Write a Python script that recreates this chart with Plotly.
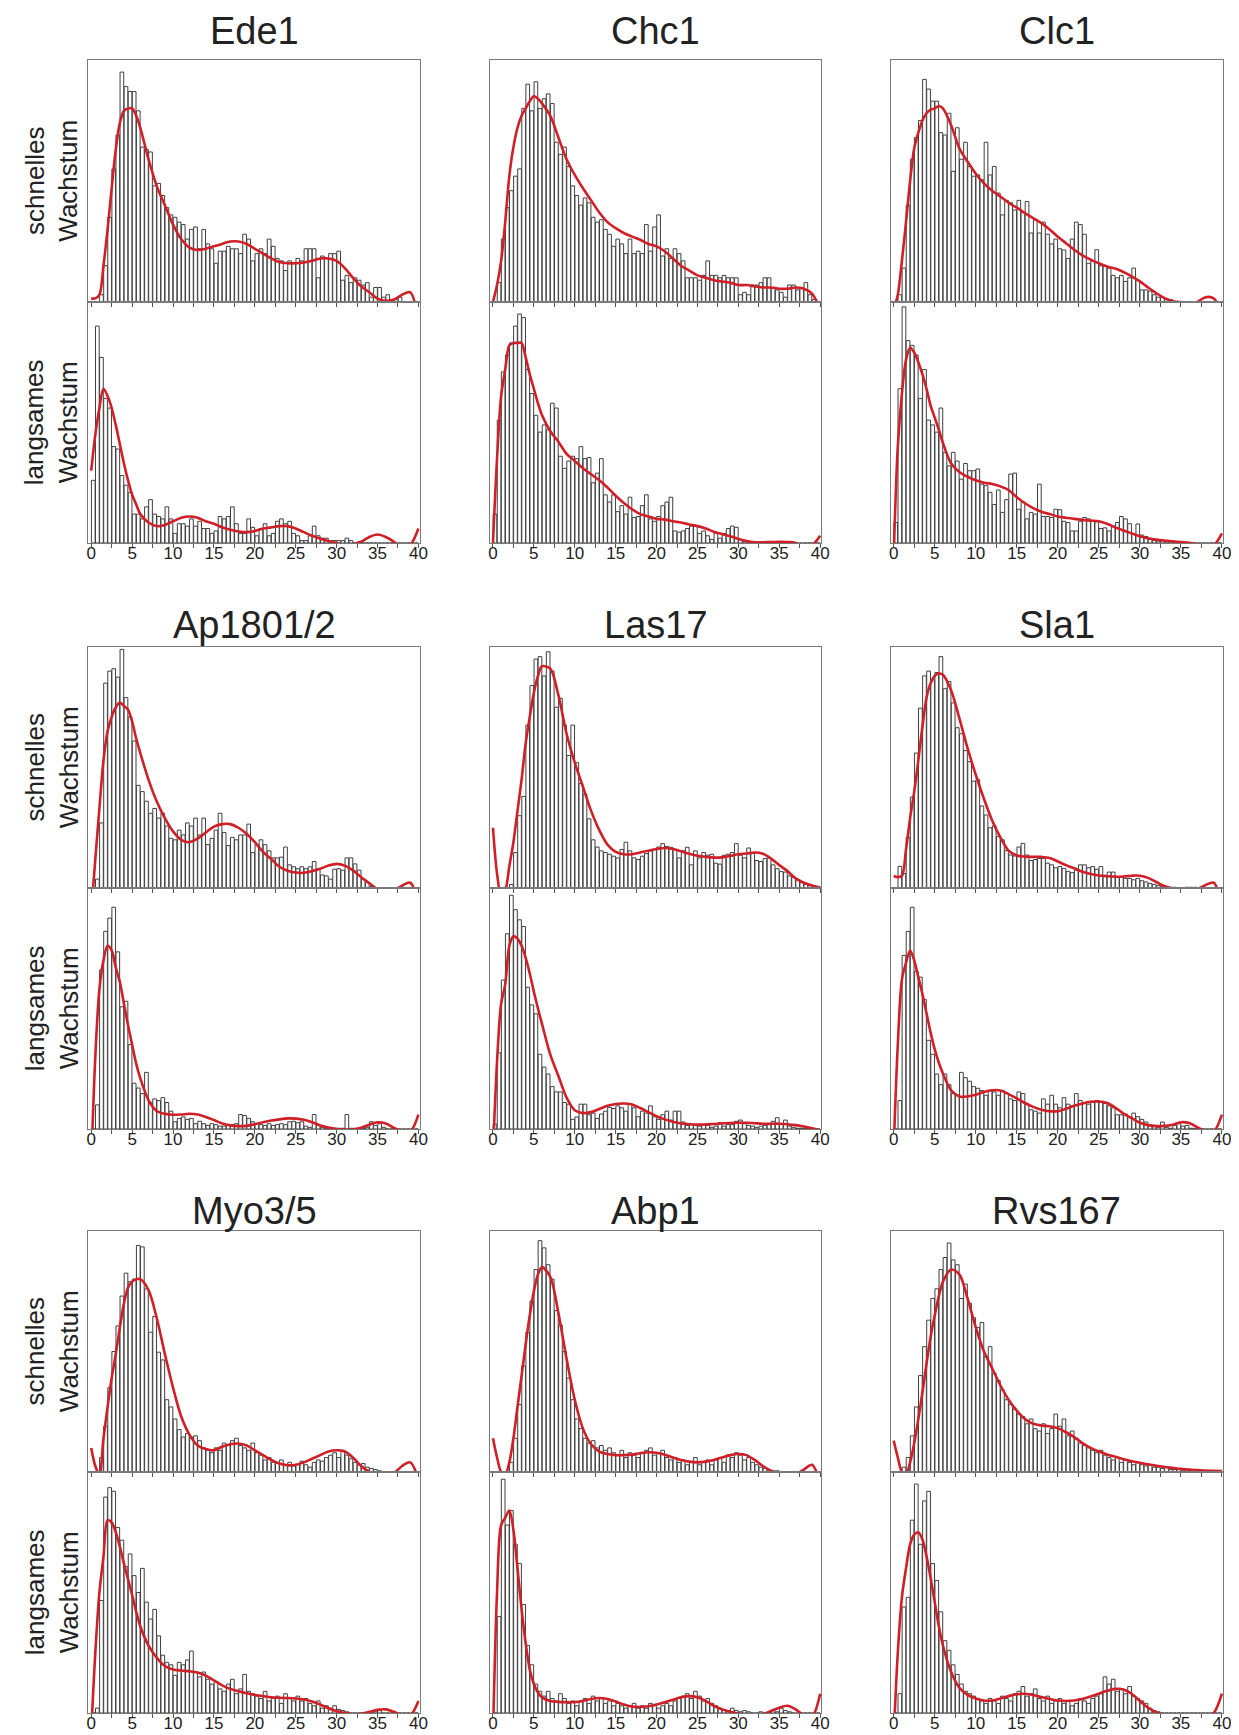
import plotly.graph_objects as go

W, H = 1239, 1735

# ---------------- categories / ticks ----------------
GENES = ["Ede1", "Chc1", "Clc1", "Ap1801/2", "Las17", "Sla1", "Myo3/5", "Abp1", "Rvs167"]
ROW_LABELS = ["schnelles<br>Wachstum", "langsames<br>Wachstum"]
BIN_WIDTH = 0.5
BIN_CENTERS = [BIN_WIDTH * (i + 0.5) for i in range(80)]
CURVE_X = [0, 0.5, 1, 1.5, 2, 2.5, 3, 3.5, 4, 4.5, 5, 5.5, 6] + list(range(7, 41))
TICK_VALUES = [0, 2.5, 5, 7.5, 10, 12.5, 15, 17.5, 20, 22.5, 25, 27.5, 30, 32.5, 35, 37.5, 40]
TICK_LABELS = ["0", "", "5", "", "10", "", "15", "", "20", "", "25", "", "30", "", "35", "", "40"]

# ---------------- data (relative heights, % of panel) ----------------
EDE1_FAST_HIST = [
    0, 0, 3, 15, 35, 55, 69, 95, 89, 87,
    87, 79, 64, 63, 62, 48, 49, 44, 39, 36,
    35, 33, 32, 26, 30, 31, 22, 30, 24, 22,
    16, 21, 21, 23, 22, 22, 20, 28, 26, 17,
    20, 22, 20, 26, 23, 18, 17, 13, 17, 16,
    18, 17, 22, 22, 22, 10, 19, 18, 20, 20,
    21, 9, 11, 8, 10, 9, 7, 8, 2, 6,
    6, 2, 3, 1, 1, 2, 0, 0, 0, 0]
EDE1_FAST_CURVE = [1.5, 1.5, 3, 15, 30, 47, 63, 74, 79, 80, 80, 77, 72,
    59, 48, 40, 32, 26, 22.5, 21.5, 22, 23, 24, 25, 25, 24, 22, 20, 18, 16.5, 16, 16, 16.3,
    17, 18, 18, 17, 14, 10, 6.5, 4, 1.4, 0.5, 1, 3, 4, -8]
EDE1_SLOW_HIST = [
    26, 90, 77, 60, 56, 40, 39, 28, 24, 21,
    12, 12, 10, 15, 18, 12, 11, 10, 15, 10,
    4, 8, 8, 7, 10, 7, 9, 6, 6, 4,
    5, 11, 10, 11, 15, 8, 4, 4, 10, 6.5,
    3, 6, 8, 3, 4, 9, 10, 8, 9, 4,
    3, 1, 1, 3, 7, 3, 2, 2, 1, 1,
    1, 1, 2, 1, 0, 0.5, 0, 0, 0, 0,
    0, 0, 0, 0, 0, 0, 0, 0, 0, 0]
EDE1_SLOW_CURVE = [30, 45, 56, 64, 61, 56, 49, 41, 33, 26, 20, 16, 12,
    8.5, 7, 7.5, 9, 10.5, 11, 10.5, 9, 8, 6.5, 5.5, 4.8, 4.5, 5, 6, 6.5, 7, 7, 6, 4.5,
    3, 1.8, 0.8, 0, -1, -0.5, 0.5, 2.5, 3.5, 2.5, 0.5, -3, -1, 6]

CHC1_FAST_HIST = [
    0, 8, 26, 39, 46, 52, 55, 80, 90, 79,
    91, 80, 84, 86, 82, 66, 61, 64, 56, 48,
    44, 40, 43, 41, 35, 33, 34, 30, 28, 23,
    26, 24, 20, 26, 20, 21, 20, 32, 21, 31,
    36, 19, 22, 18, 22, 20, 17, 10, 10, 10,
    9, 11, 17, 11, 11, 10, 11, 10, 10, 10,
    3, 4, 3, 7, 7, 8, 10, 10, 6, 5,
    4, 2, 7, 7, 5, 6, 8, 3, 1, 0]
CHC1_FAST_CURVE = [0, 7, 17, 33, 52, 64, 72, 77, 80, 83, 85, 84, 82,
    77, 68, 59, 52.5, 47, 42, 37, 33, 30.5, 28.5, 27, 25.7, 24, 23, 21, 18, 15, 13, 11, 10,
    9, 8.5, 8, 7, 7, 6.5, 6, 6, 5.5, 5.5, 6, 5.5, 3.5, -3]
CHC1_SLOW_HIST = [
    12, 51, 71, 78, 83, 90, 95, 93.5, 72, 62,
    53, 46, 49, 47, 58, 56, 36, 31, 34, 36,
    35, 40, 35, 35.5, 25, 29, 35, 20, 17, 20,
    13, 15.5, 12, 19, 10.6, 11, 15.5, 20, 10, 9,
    11, 15.5, 17, 19, 5, 4.5, 5, 6, 7, 7,
    4, 5, 3, 1.5, 4, 2, 4, 6, 7, 6.5,
    1.5, 0.5, 0, 0, 0, 0, 0, 0, 0, 0,
    0, 0, 0, 0, 0, 0, 0, 0, 0, 0]
CHC1_SLOW_CURVE = [0, 35, 61, 72, 82, 83, 83, 83, 77, 70, 64, 58, 53,
    46.5, 42, 37, 34, 31, 28.5, 26, 23, 19.6, 16.6, 14, 12, 11, 10, 9.7, 9, 8.5, 7.7, 7, 6,
    4.7, 3.7, 2.8, 1.7, 0.8, 0.3, 0.3, 0.4, 0.5, 0.4, 0, -2, -1, 3]

CLC1_FAST_HIST = [
    0, 3, 14, 40, 59, 68, 75, 92, 88, 83,
    83, 70, 69, 78, 54, 72, 59, 66, 56, 52,
    52.5, 50.5, 66, 52.5, 56, 45, 36, 42, 41, 38,
    42, 37, 41.5, 28.5, 34, 28.5, 33, 28, 24, 26,
    22, 21.5, 18, 26, 33, 32, 28, 16, 17, 21.6,
    15, 15, 14, 11, 10, 11, 8.5, 10, 14, 9,
    5, 5, 4.5, 3, 2, 2, 1.4, 1, 0, 0,
    0, 0, 0, 0, 0, 0, 0, 0, 0, 0]
CLC1_FAST_CURVE = [-3, 3, 17, 33, 50, 63.5, 70, 75, 78, 79.5, 80, 81, 80,
    73, 63.5, 58, 53, 49, 46, 43.6, 41, 39, 36.7, 34.7, 32.6, 30, 27, 24.3, 21.6, 19.3, 17.5, 16, 14.7,
    13.8, 12.4, 10.6, 8.5, 6, 3.7, 1.6, 0.3, 0, -1, 0, 2, 1.5, -5]
CLC1_SLOW_HIST = [
    8.5, 64, 98, 84, 82, 78, 60, 72, 51, 49,
    46, 56, 37.6, 32, 37.6, 34, 26.5, 33, 30, 30,
    30.7, 24.4, 23.8, 21, 16, 22, 12.7, 18, 28.6, 29,
    14, 17, 10, 12.7, 12, 24.4, 11, 11, 10.6, 14,
    13.8, 9, 8.5, 5, 5, 9, 10.6, 10, 9, 8.8,
    6, 6.3, 5, 7, 8.5, 11, 10, 8, 3.7, 7.9,
    3.3, 2.7, 1.5, 1, 0.8, 1, 0.5, 0.5, 0, 0.5,
    0, 0, 0, 0, 0, 0, 0, 0, 0, 0]
CLC1_SLOW_CURVE = [-5, 40, 62, 76, 81, 79, 75, 70, 64, 57, 52, 47, 41.5,
    33, 29.5, 27.5, 26, 25, 24.5, 23.5, 22, 19, 16.5, 14.5, 13, 12, 11, 10.5, 10, 9.6, 9.3, 9, 8,
    6.5, 5.2, 4, 2.8, 2, 1.4, 1, 0.7, 0.4, 0.1, -0.5, -1.5, -1, 4]

AP_FAST_HIST = [
    0, 3.7, 27, 85, 90, 91, 87.5, 99, 79, 71,
    61, 42.6, 40, 36, 31, 33, 29, 31, 25.7, 20.6,
    20, 24, 22, 27, 25.7, 29, 22, 29, 18, 20.6,
    24, 31, 23, 17.6, 21, 20, 22, 22, 26.5, 14.7,
    18, 20, 18, 15.4, 12.5, 12.5, 12.8, 17, 9.6, 8.8,
    8, 8.8, 8, 8.8, 11, 8, 5.4, 5, 3.7, 7.8,
    8, 7.4, 12.5, 12.5, 10, 7.4, 3.7, 2.2, 0.7, 0,
    0, 0, 0, 0, 0, 0, 0, 0, 0, 0]
AP_FAST_CURVE = [-10, 12, 33, 53, 65, 71, 75, 77, 75.5, 74, 69, 62, 56,
    45, 36, 29, 23.5, 20, 19, 20.5, 23, 25.5, 26.5, 26.5, 25, 22.5, 19, 15, 12, 8.8, 7.2, 6.4, 6.3,
    7, 8, 9.3, 10, 9.3, 7.3, 4.5, 2, -0.5, -2, -1, 1, 2.2, -6]
AP_SLOW_HIST = [
    0, 10, 66, 82, 87.5, 92, 73.5, 50.7, 53, 35,
    19, 17, 14.7, 23.5, 11, 12.5, 11.8, 13, 11, 7.4,
    3, 4.4, 5, 4, 4.4, 2.2, 3.2, 2.2, 1.5, 2.2,
    1.8, 1.2, 1.2, 1.5, 1.8, 2.2, 6, 5.6, 4.4, 3,
    2.2, 1.8, 1.5, 2.2, 1.5, 1.8, 2.2, 1.8, 3, 3.2,
    2.6, 3, 1.2, 0.7, 6, 1.5, 0.7, 0.3, 0.3, 0.3,
    0.3, 0.3, 6, 0.3, 0.3, 0.3, 0.3, 0.7, 3, 1.5,
    2.2, 0.7, 0, 0, 0, 0, 0, 0, 0, 0]
AP_SLOW_CURVE = [-15, 30, 58, 70, 76, 74, 67, 61, 52, 43, 35, 27, 21,
    12, 7.5, 6.3, 5.9, 6, 6.3, 6, 5, 3.7, 2.3, 1.5, 1.2, 1.3, 2, 2.8, 3.5, 4, 4.4, 4.3, 3.8,
    2.8, 1.5, 0.6, 0, -0.3, -0.2, 0.5, 1.8, 2.8, 2.3, 0.5, -1, -1, 6]

LAS17_FAST_HIST = [
    0, 0, 0, 0, 1.5, 14.7, 30, 38, 67.6, 84,
    95, 96, 88, 98, 90, 75, 78.7, 67.6, 55, 67.6,
    52, 43.4, 39, 28.7, 20, 17, 15.4, 14.7, 14, 13.2,
    12.5, 16, 19, 15.4, 12.5, 11.8, 13.2, 14.3, 15.4, 16,
    17, 18.4, 17.2, 16.9, 16, 12.5, 15.4, 16.9, 9.6, 15.4,
    12.5, 14.7, 13.6, 14, 10.3, 9.9, 13.6, 14, 14.7, 18.4,
    13.6, 12.5, 16.6, 14.3, 11.4, 11, 12.2, 12.5, 9.6, 8,
    6.8, 6.6, 5, 4.4, 3.4, 2.2, 1.5, 1.5, 1, 0.7]
LAS17_FAST_CURVE = [25, 6, -3, -1, 9, 19, 32, 45, 60, 71, 81, 88, 92,
    91, 80, 64, 52, 42, 32, 24, 18, 15, 14, 14, 14.7, 15.5, 16.2, 16.6, 16.2, 15.2, 14.2, 13.4, 12.9,
    12.6, 12.7, 13.3, 14, 14.3, 14.7, 14.2, 12.2, 9.5, 7, 4, 2.2, 1, 0]
LAS17_SLOW_HIST = [
    2, 31.6, 61.8, 81, 97, 91, 86.8, 84, 58.8, 51.5,
    47.8, 31, 25.7, 22.8, 17.6, 15.4, 15.4, 11, 10.3, 4,
    5, 10.3, 10.3, 5.9, 6.6, 4.4, 6.2, 7.4, 9, 8.5,
    9.6, 8.8, 7.4, 10.3, 8.8, 5.1, 7.4, 6.6, 9.6, 5.1,
    4, 5.9, 7.4, 3.7, 7.4, 7.4, 2.9, 1.5, 1.8, 1.5,
    1.2, 1.8, 1.5, 0.7, 1.2, 2.6, 1.2, 1.8, 1.8, 3.2,
    3.7, 2.2, 1.5, 1.2, 0.7, 1.2, 1.5, 1.8, 3.2, 4.7,
    2.2, 3.7, 1.2, 0.7, 0.3, 0.3, 0.3, 0.3, 0, 0]
LAS17_SLOW_CURVE = [-10, 28, 52, 60, 76, 80, 79, 76, 71, 64.5, 57, 50, 43.5,
    31, 22, 13, 7.8, 6.6, 7, 8.3, 9.6, 10.4, 10.6, 10.2, 8.7, 7, 5.3, 4, 3, 2.3, 2, 1.8, 1.9,
    2.1, 2.3, 2.5, 2.6, 2.6, 2.4, 2.2, 2.2, 2.2, 2, 1.6, 1, 0.3, -0.5]

SLA1_FAST_HIST = [
    0, 9, 6, 21, 37.7, 56, 74.6, 88, 90, 86.4,
    89.4, 96, 82.7, 85.7, 76.8, 66.5, 64, 57, 52.4, 44.3,
    45, 34, 30.3, 25, 25.8, 21.4, 20, 15.5, 13.7, 13.3,
    17, 18.5, 13.7, 11.4, 11.8, 12.3, 12.3, 10.3, 9.6, 8.4,
    8.9, 8.1, 6.9, 6.4, 7.4, 9.6, 9.6, 8.4, 8.9, 7.8,
    8.9, 5.2, 6.6, 6.6, 4.4, 4.4, 4, 4, 3.4, 4,
    3, 2.5, 1.9, 1.5, 1, 0.7, 0.3, 0.3, 0.3, 0,
    0, 0.3, 0.3, 0.3, 0, 0, 0, 0, 0, 0]
SLA1_FAST_CURVE = [5, 4.5, 5, 16, 29, 40, 53, 67, 79, 85, 88, 89, 88.5,
    82, 70.5, 58, 47, 37, 28, 21, 15.5, 13.5, 13, 12.9, 12.9, 12.5, 11, 9.5, 8.2, 6.7, 5.8, 5.2, 4.9,
    4.7, 4.8, 5.1, 5.1, 4.2, 2.5, 0.8, -0.3, -1.5, -1.5, -0.5, 1.2, 2.2, -8]
SLA1_SLOW_HIST = [
    0, 11.8, 72, 82, 92, 65.4, 63, 53.7, 36.8, 31,
    22.8, 18.4, 22.8, 18.4, 14.7, 14, 23.5, 21.3, 19.8, 17.6,
    16.9, 16, 14, 16, 15.4, 14, 16, 14.7, 12.5, 11.8,
    15.4, 14.7, 10.3, 8, 7.4, 6.6, 12.5, 10.3, 14, 10.3,
    8.8, 13, 10.3, 9.6, 14.7, 11.8, 11, 10.3, 11, 11.8,
    11, 10.6, 9.6, 8.8, 5.9, 5.9, 6.2, 5.1, 6.6, 5.1,
    4, 2.9, 1.8, 1.2, 0.7, 2.9, 0.7, 0.3, 1.5, 2.2,
    1.2, 1.5, 0.3, 0.3, 0, 0, 0, 0, 0, 0]
SLA1_SLOW_CURVE = [-8, 35, 62, 69, 74, 70, 63, 56, 48, 40, 33, 27.5, 23,
    16, 13.5, 13.5, 14.2, 15.4, 16.1, 16, 14.5, 12.7, 10.8, 9.2, 8, 7.4, 7.4, 8.4, 9.6, 10.6, 11.3, 11.4, 10.8,
    8.9, 6.4, 4.5, 2.6, 1.6, 1.2, 1.3, 1.8, 2.8, 2.5, 0.8, -1, -1, 6]

MYO_FAST_HIST = [
    0, 0, 6, 19, 35, 50, 60.6, 73, 82.5, 79,
    80, 94, 93.4, 76, 58, 64.5, 49.7, 46.5, 30, 27,
    22, 17.6, 14.5, 16, 14.5, 15, 13, 10, 9, 8,
    10, 9, 12, 11, 13, 14, 11, 10, 9, 12,
    8, 7, 5, 6, 4, 3.5, 5, 3, 4, 2.5,
    3, 4.5, 3, 2, 4, 5, 4.5, 6, 7, 8,
    6, 9, 7, 5.5, 4, 3, 3.5, 2, 1.5, 1,
    0.5, 0, 0, 0, 0, 0, 0, 0, 0, 0]
MYO_FAST_CURVE = [10, 2.5, -1, 14, 27, 39, 49, 60, 70, 76.5, 79, 80, 80,
    75.5, 64, 49, 35, 23, 15.5, 11, 9.5, 9, 10.5, 11.5, 11.8, 11, 9, 7, 5, 3.5, 2.8, 3, 4,
    5.5, 7, 8.5, 9, 8.5, 6, 2.5, 0, -1.5, -2, -0.5, 2.5, 4, -3]
MYO_SLOW_HIST = [
    0, 2, 46.7, 89.6, 93.5, 92, 77, 71.7, 60.7, 66,
    57, 50, 60, 46, 39, 43, 32, 24, 21, 20,
    15.6, 21, 20, 22, 25.7, 17, 15, 17, 14, 12,
    13, 10, 9, 12, 14, 8, 10, 16, 9, 8,
    7, 6, 9, 5, 6, 7, 4, 8, 6, 5,
    7, 5, 6, 4, 3, 5, 2, 3, 2, 3,
    1.5, 1, 0.5, 0, 0, 0, 0, 0, 0, 0.5,
    1, 0, 0, 0, 0, 0, 0, 0, 0, 0]
MYO_SLOW_CURVE = [-8, 25, 50, 65, 80, 79, 75, 69, 62, 55.5, 49, 42, 36,
    28, 23, 19.5, 18, 17.6, 17.3, 16.8, 15.5, 13.5, 11.5, 10, 9, 8.2, 7.5, 7, 6.5, 6.3, 6.2, 6, 5.6,
    4.8, 3.5, 2, 0.8, 0, -0.5, -0.3, 0.5, 1.3, 1.5, 0.5, -1, -1, 5]

ABP1_FAST_HIST = [
    0, 0, 0, 0, 4, 14, 28, 44, 58, 71,
    84, 96, 93, 86, 80, 67, 61, 50, 39, 30,
    22, 18, 14, 12, 13, 10, 11, 9, 10, 8,
    7, 9, 6, 8, 7, 6, 8, 9, 10, 7,
    8, 9, 6, 5, 6, 4, 5, 3, 4, 6,
    3, 4, 5, 3, 5, 6, 4, 7, 6, 8,
    7, 5, 6, 4, 3, 2, 1.5, 1, 0.5, 0.5,
    0, 0, 0, 0, 0, 0, 0, 0, 0, 0]
ABP1_FAST_CURVE = [14, 6, 0, -1, 4, 14, 27, 40, 53, 65, 75, 82, 85,
    81, 66, 47, 30, 18, 11.5, 8.5, 7.5, 7, 7, 7.2, 7.8, 8.2, 8, 7.2, 6, 5, 4.3, 4, 4.3,
    5, 6, 7, 7.5, 7, 5, 2.5, 0.5, -1, -1.5, -1, 1, 3, -5]
ABP1_SLOW_HIST = [
    0, 40, 97, 78, 84, 70, 62, 45, 28, 20,
    12, 9, 7, 9, 6, 5, 8, 6, 4, 5,
    3, 5, 6, 4, 7, 5, 6, 4, 5, 3,
    4, 3, 2, 3, 4, 2, 3, 2, 4, 3,
    2, 3, 4, 3, 5, 6, 7, 8, 6, 9,
    7, 5, 6, 4, 3, 2, 1.5, 1, 2, 1,
    0.5, 1, 0.5, 0, 0, 0.5, 0, 0, 1, 0.5,
    2, 1, 0.5, 0, 0, 0, 0, 0, 0, 0]
ABP1_SLOW_CURVE = [-10, 50, 78, 81, 84, 76, 60, 43, 29, 18, 12, 8.5, 6.5,
    5, 4.6, 4.5, 4.5, 5, 5.8, 6.2, 5.8, 4.8, 3.5, 2.7, 2.5, 2.8, 3.5, 4.5, 5.5, 6.5, 7, 6.5, 5,
    3, 1.5, 0.5, -0.3, -0.8, -1, -0.5, 0.8, 2.2, 3, 1.5, -1, -1.5, 8]

RVS_FAST_HIST = [
    0, 0, 2, 6, 15, 27, 40, 52, 63, 72,
    76, 84, 89, 95, 88, 86, 72, 78, 70, 64,
    60, 62, 48, 52, 41, 38, 34, 30, 28, 26,
    24, 23, 20, 22, 18, 17, 20, 16, 18, 24,
    19, 22, 15, 17, 14, 12, 11, 10, 9, 8,
    9, 7, 6, 5, 6, 4, 5, 4, 3, 4,
    3, 2.5, 3, 2, 2, 1.5, 2, 1, 1, 1,
    0.5, 1, 0.5, 0.5, 0.5, 0, 0, 0, 0, 0]
RVS_FAST_CURVE = [13, 6, 0, -1, 4, 12, 22, 33, 45, 56, 65, 73, 79,
    84, 82, 72, 60, 50, 43, 36, 30, 25.5, 22, 20, 19.3, 19, 18.2, 16.5, 14.5, 12, 10, 8.5, 7.3,
    6.3, 5.3, 4.5, 3.8, 3.2, 2.6, 2.1, 1.7, 1.3, 1, 0.8, 0.6, 0.5, 0.4]
RVS_SLOW_HIST = [
    0, 8, 44, 48, 80, 95, 70, 88, 92, 62,
    55, 42, 30, 26, 20, 16, 12, 9, 8, 7,
    6, 5, 4, 6, 5, 4, 7, 6, 5, 8,
    9, 11, 7, 8, 10, 6, 5, 7, 4, 5,
    6, 4, 5, 3, 4, 6, 5, 4, 6, 7,
    8, 15, 12, 14, 9, 10, 8, 11, 7, 6,
    5, 4, 2, 1, 0.5, 0, 0, 0, 0, 0,
    0, 0, 0, 0, 0, 0, 0, 0, 0, 0]
RVS_SLOW_CURVE = [-10, 25, 48, 60, 70, 74, 75, 72, 65, 56, 46, 36, 28,
    17, 10.5, 7.5, 6, 5.2, 5.2, 6, 7, 7.8, 8, 7.5, 6.6, 5.8, 5.2, 5, 5.2, 5.8, 6.8, 8, 9.2,
    10, 9.8, 8, 5, 2.2, 0.3, -1, -1.5, -1.5, -1.5, -1.5, -1.5, 0, 8]

PANELS = [
    (EDE1_FAST_HIST, EDE1_FAST_CURVE, EDE1_SLOW_HIST, EDE1_SLOW_CURVE),
    (CHC1_FAST_HIST, CHC1_FAST_CURVE, CHC1_SLOW_HIST, CHC1_SLOW_CURVE),
    (CLC1_FAST_HIST, CLC1_FAST_CURVE, CLC1_SLOW_HIST, CLC1_SLOW_CURVE),
    (AP_FAST_HIST, AP_FAST_CURVE, AP_SLOW_HIST, AP_SLOW_CURVE),
    (LAS17_FAST_HIST, LAS17_FAST_CURVE, LAS17_SLOW_HIST, LAS17_SLOW_CURVE),
    (SLA1_FAST_HIST, SLA1_FAST_CURVE, SLA1_SLOW_HIST, SLA1_SLOW_CURVE),
    (MYO_FAST_HIST, MYO_FAST_CURVE, MYO_SLOW_HIST, MYO_SLOW_CURVE),
    (ABP1_FAST_HIST, ABP1_FAST_CURVE, ABP1_SLOW_HIST, ABP1_SLOW_CURVE),
    (RVS_FAST_HIST, RVS_FAST_CURVE, RVS_SLOW_HIST, RVS_SLOW_CURVE),
]

for gi, p in enumerate(PANELS):
    for j, arr in enumerate(p):
        want = 80 if j % 2 == 0 else len(CURVE_X)
        if len(arr) != want:
            raise ValueError(f"{GENES[gi]} array {j}: len {len(arr)} != {want}")

# ---------------- layout geometry (pixels) ----------------
COLS_PX = [(79, 413), (484, 818), (888, 1223)]
ROWS_PX = [(52, 294, 535), (639, 880, 1121), (1223, 1464, 1705)]
TITLE_Y_PX = [23, 617, 1203]
FONT = "Liberation Sans, Arial, Helvetica, sans-serif"
RED = "#d01f26"

fig = go.Figure()
layout = dict(
    width=W, height=H, autosize=False,
    margin=dict(l=0, r=0, t=0, b=0),
    paper_bgcolor="white", plot_bgcolor="white",
    showlegend=False, bargap=0.1,
    font=dict(family=FONT, color="#222"),
)
annotations = []

for gi, (fh, fc, sh, sc) in enumerate(PANELS):
    r, c = divmod(gi, 3)
    x0, x1 = COLS_PX[c]
    top, mid, bot = ROWS_PX[r]
    for k, (hist, curve, y_top, y_bot, is_bottom) in enumerate(
            [(fh, fc, top, mid, False), (sh, sc, mid, bot, True)]):
        idx = gi * 2 + k + 1
        xs = "x" if idx == 1 else f"x{idx}"
        ys = "y" if idx == 1 else f"y{idx}"
        fig.add_trace(go.Bar(
            x=BIN_CENTERS, y=hist, xaxis=xs, yaxis=ys,
            marker=dict(color="white", line=dict(color="#3f3f3f", width=1)),
            hoverinfo="skip"))
        fig.add_trace(go.Scatter(
            x=CURVE_X, y=curve, xaxis=xs, yaxis=ys, mode="lines",
            line=dict(color=RED, width=2.6, shape="spline", smoothing=0.9),
            hoverinfo="skip"))
        xname = "xaxis" if idx == 1 else f"xaxis{idx}"
        yname = "yaxis" if idx == 1 else f"yaxis{idx}"
        layout[xname] = dict(
            domain=[x0 / W, x1 / W], anchor=ys, range=[-0.35, 40.15],
            showline=True, mirror=True, linecolor="#7a7a7a", linewidth=1,
            showgrid=False, zeroline=False,
            ticks="outside", ticklen=4, tickwidth=1, tickcolor="#555",
            tickmode="array", tickvals=TICK_VALUES, ticktext=TICK_LABELS,
            showticklabels=is_bottom, ticklabelstandoff=-9,
            tickfont=dict(size=17, family=FONT, color="#222"),
            fixedrange=True)
        layout[yname] = dict(
            domain=[1 - y_bot / H, 1 - y_top / H], anchor=xs, range=[0, 100],
            showline=True, mirror=True, linecolor="#7a7a7a", linewidth=1,
            showgrid=False, zeroline=False, ticks="", showticklabels=False,
            fixedrange=True)
        if c == 0:
            annotations.append(dict(
                xref="paper", yref="paper", x=42 / W, y=1 - (y_top + y_bot) / 2 / H,
                xanchor="center", yanchor="middle", textangle=-90,
                text=ROW_LABELS[k], showarrow=False,
                font=dict(size=26, family=FONT, color="#222")))
    annotations.append(dict(
        xref="paper", yref="paper", x=(x0 + x1) / 2 / W, y=1 - TITLE_Y_PX[r] / H,
        xanchor="center", yanchor="middle", text=GENES[gi], showarrow=False,
        font=dict(size=38, family=FONT, color="#222")))

layout["annotations"] = annotations
fig.update_layout(**layout)
fig.write_html("out.html", config={"displayModeBar": False})
